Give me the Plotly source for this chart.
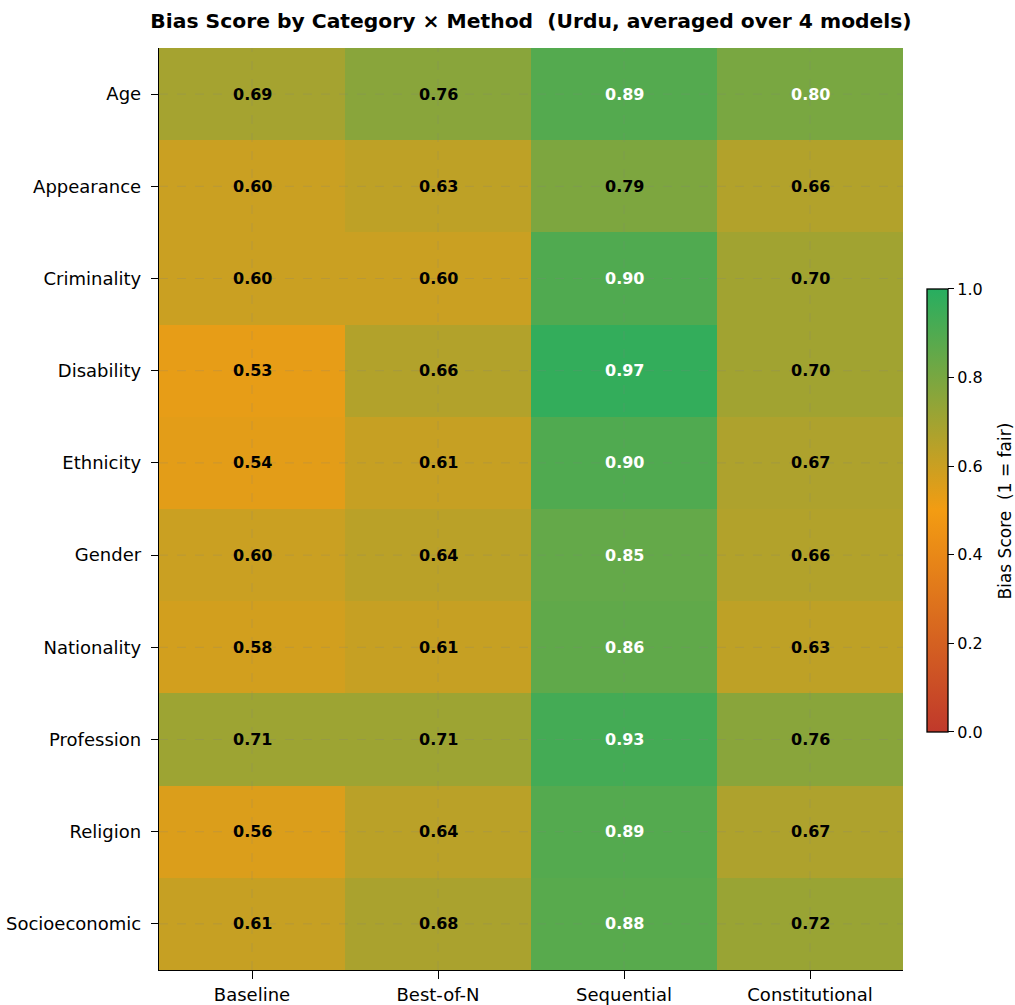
import plotly.graph_objects as go

categories = ["Age", "Appearance", "Criminality", "Disability", "Ethnicity",
              "Gender", "Nationality", "Profession", "Religion", "Socioeconomic"]
methods = ["Baseline", "Best-of-N", "Sequential", "Constitutional"]

baseline = [0.69, 0.60, 0.60, 0.53, 0.54, 0.60, 0.58, 0.71, 0.56, 0.61]
best_of_n = [0.76, 0.63, 0.60, 0.66, 0.61, 0.64, 0.61, 0.71, 0.64, 0.68]
sequential = [0.89, 0.79, 0.90, 0.97, 0.90, 0.85, 0.86, 0.93, 0.89, 0.88]
constitutional = [0.80, 0.66, 0.70, 0.70, 0.67, 0.66, 0.63, 0.76, 0.67, 0.72]

cbar_ticks = [0.0, 0.2, 0.4, 0.6, 0.8, 1.0]
cbar_title = "Bias Score &nbsp;(1 = fair)"

cols = [baseline, best_of_n, sequential, constitutional]
z = [[cols[j][i] for j in range(len(methods))] for i in range(len(categories))]
xi = list(range(len(methods)))
yi = list(range(len(categories)))

FONT = "DejaVu Sans"

fig = go.Figure()
fig.add_trace(go.Heatmap(
    z=z, x=xi, y=yi, zmin=0, zmax=1,
    colorscale=[[0.0, "#c0392b"], [0.5, "#f39c12"], [1.0, "#27ae60"]],
    xgap=0, ygap=0, hoverinfo="skip",
    colorbar=dict(
        x=1.032, xanchor="left", xref="paper", xpad=0, ypad=0,
        y=0.4984, yanchor="middle", len=0.4805, lenmode="fraction",
        thickness=21, outlinewidth=1.3, outlinecolor="black",
        tickvals=cbar_ticks, ticktext=[f"{t:.1f}" for t in cbar_ticks],
        ticks="outside", ticklen=6, tickcolor="black", tickwidth=1.2,
        tickfont=dict(family=FONT, size=16, color="black"),
    ),
))

annotations = []
for i, cat in enumerate(categories):
    for j, m in enumerate(methods):
        v = z[i][j]
        annotations.append(dict(
            x=j, y=i, xref="x", yref="y", text=f"<b>{v:.2f}</b>",
            showarrow=False,
            font=dict(family=FONT, size=16, color="white" if v >= 0.795 else "black"),
        ))

# colorbar label, placed to the right of the colorbar tick labels
annotations.append(dict(
    x=1.1384, y=0.4984, xref="paper", yref="paper", xanchor="center", yanchor="middle",
    text=cbar_title, textangle=-90, showarrow=False,
    font=dict(family=FONT, size=17, color="black"),
))

shapes = []
for j in xi:
    shapes.append(dict(type="line", xref="x", yref="paper", x0=j, x1=j, y0=0, y1=1,
                       line=dict(color="rgba(128,128,128,0.3)", width=0.8, dash="dash"),
                       layer="above"))
for i in yi:
    shapes.append(dict(type="line", xref="paper", yref="y", x0=0, x1=1, y0=i, y1=i,
                       line=dict(color="rgba(128,128,128,0.3)", width=0.8, dash="dash"),
                       layer="above"))

fig.update_layout(
    width=1015, height=1005,
    margin=dict(l=159, r=112, t=48, b=35, autoexpand=False),
    paper_bgcolor="white", plot_bgcolor="white",
    title=dict(text="<b>Bias Score by Category × Method  (Urdu, averaged over 4 models)</b>",
               x=0.5, xref="paper", xanchor="center", y=1 - 21 / 1005, yanchor="middle",
               font=dict(family=FONT, size=20.3, color="black")),
    font=dict(family=FONT, color="black"),
    annotations=annotations,
    shapes=shapes,
    xaxis=dict(tickvals=xi, ticktext=methods, range=[-0.5, 3.5], showgrid=False,
               zeroline=False, showline=True, linecolor="black", linewidth=1.4,
               ticks="outside", ticklen=8, tickcolor="black", tickwidth=1.3,
               ticklabelstandoff=0,
               tickfont=dict(family=FONT, size=18, color="black")),
    yaxis=dict(tickvals=yi, ticktext=categories, range=[9.5, -0.5], showgrid=False,
               zeroline=False, showline=True, linecolor="black", linewidth=1.4,
               ticks="outside", ticklen=7, tickcolor="black", tickwidth=1.3,
               ticklabelstandoff=6,
               tickfont=dict(family=FONT, size=18, color="black")),
)

fig.write_html(
    "out.html",
    config={"displayModeBar": False},
    post_script="document.body.style.margin='0';document.body.style.overflow='hidden';",
)
